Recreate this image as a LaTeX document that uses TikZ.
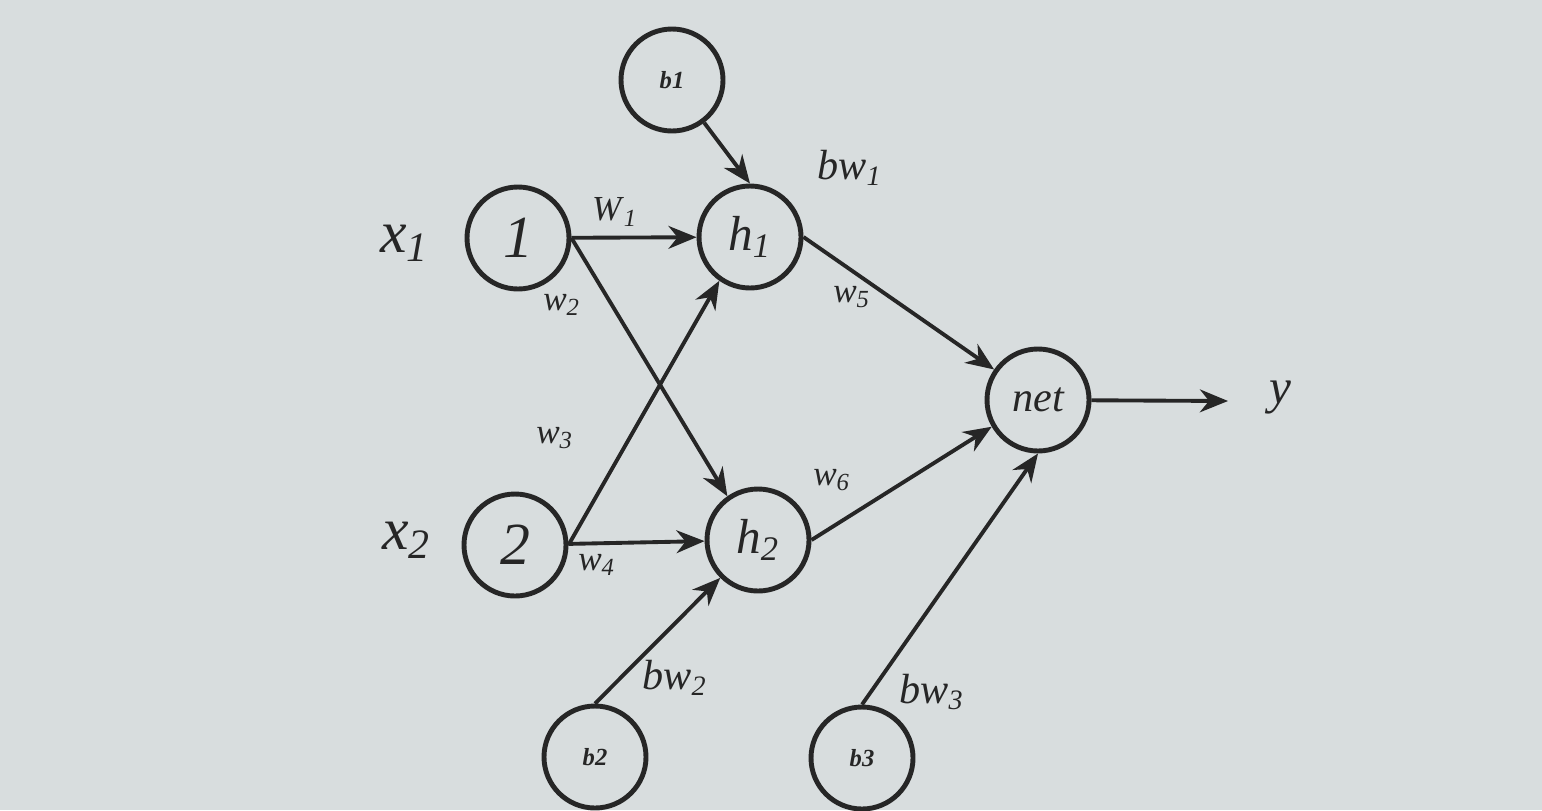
\documentclass[tikz,border=0pt]{standalone}
\usepackage{fontspec}
\setmainfont{Liberation Serif}
\usetikzlibrary{arrows.meta}

\definecolor{paper}{RGB}{216,221,222}
\definecolor{ink}{RGB}{38,38,38}

\newcommand{\wlab}[2]{\textit{#1}\textsubscript{\textit{#2}}}

\tikzset{
  neuron/.style={circle, draw=ink, line width=1.4pt, minimum size=1.02cm, inner sep=0pt, text=ink},
  biasnode/.style={neuron, font=\fontsize{7}{8}\selectfont\bfseries\itshape},
  conn/.style={-{Stealth[length=8pt, width=6.5pt]}, draw=ink, line width=1.1pt},
  wtext/.style={text=ink, font=\fontsize{10}{12}\selectfont},
  btext/.style={text=ink, font=\fontsize{12}{14}\selectfont}
}

\begin{document}
\begin{tikzpicture}
        \fill[paper] (0, 0) rectangle (15.42, 8.10);
        \useasboundingbox (0, 0) rectangle (15.42, 8.10);

        % input, hidden and output neurons
        \node[neuron, font=\fontsize{17}{18}\selectfont\itshape] (n1) at (5.18, 5.72) {1};
        \node[neuron, font=\fontsize{17}{18}\selectfont\itshape] (n2) at (5.15, 2.65) {2};
        \node[neuron, font=\fontsize{14}{16}\selectfont] (h1) at (7.50, 5.73) {\wlab{h}{1}};
        \node[neuron, font=\fontsize{14}{16}\selectfont] (h2) at (7.58, 2.70) {\wlab{h}{2}};
        \node[neuron, font=\fontsize{12}{14}\selectfont\itshape] (net) at (10.38, 4.10) {net};

        % bias neurons
        \node[biasnode] (b1) at (6.72, 7.30) {b1};
        \node[biasnode] (b2) at (5.95, 0.53) {b2};
        \node[biasnode] (b3) at (8.62, 0.52) {b3};

        % inputs and output
        \node[text=ink, font=\fontsize{17}{18}\selectfont] (x1) at (4.05, 5.67) {\wlab{x}{1}};
        \node[text=ink, font=\fontsize{17}{18}\selectfont] (x2) at (4.07, 2.70) {\wlab{x}{2}};
        \coordinate (yend) at (12.28, 4.09);
        \node[text=ink, font=\fontsize{14}{16}\selectfont\itshape] (y) at (12.80, 4.12) {y};

        \draw[conn] (n1) -- (h1);
        \draw[conn] (n1.east) -- (h2.125);
        \draw[conn] (n2.east) -- (h1.235);
        \draw[conn] (n2) -- (h2);
        \draw[conn] (b1) -- (h1.north);
        \draw[conn] (h1.east) -- (net);
        \draw[conn] (h2.east) -- (net.210);
        \draw[conn] (b2.north) -- (h2);
        \draw[conn] (b3.north) -- (net.south);
        \draw[conn] (net) -- (yend);

        % weights
        \node[wtext] (lw1) at (6.15, 5.98) {\wlab{W}{1}};
        \node[wtext] (lw2) at (5.62, 5.05) {\wlab{w}{2}};
        \node[wtext] (lw3) at (5.55, 3.72) {\wlab{w}{3}};
        \node[wtext] (lw4) at (5.97, 2.45) {\wlab{w}{4}};
        \node[wtext] (lw5) at (8.52, 5.13) {\wlab{w}{5}};
        \node[wtext] (lw6) at (8.32, 3.30) {\wlab{w}{6}};
        \node[btext] (lbw1) at (8.50, 6.42) {\wlab{bw}{1}};
        \node[btext] (lbw2) at (6.75, 1.32) {\wlab{bw}{2}};
        \node[btext] (lbw3) at (9.32, 1.18) {\wlab{bw}{3}};
      \end{tikzpicture}
\end{document}
